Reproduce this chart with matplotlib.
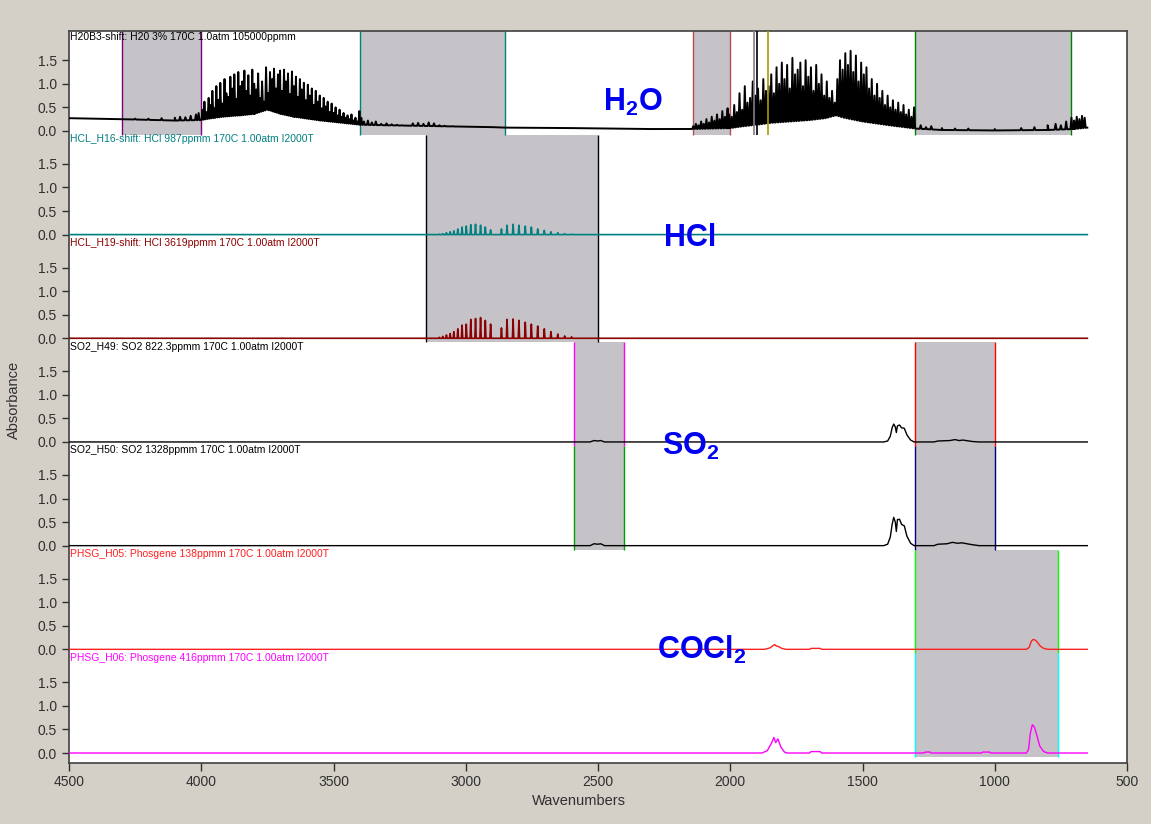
import matplotlib
matplotlib.use("Agg")
import matplotlib.pyplot as plt
import numpy as np

plt.rcParams['font.family'] = ['Liberation Sans', 'DejaVu Sans']
plt.rcParams['mathtext.fontset'] = 'custom'
plt.rcParams['mathtext.rm'] = 'Liberation Sans'
plt.rcParams['mathtext.bf'] = 'Liberation Sans:bold'

# ---- spectra (wavenumber, absorbance) ----
# water: slowly varying lower envelope + line spikes
h2o_base = [(4500, 0.27), (4300, 0.25), (4100, 0.22), (4000, 0.23), (3950, 0.28), (3900, 0.31),
            (3850, 0.33), (3800, 0.36), (3750, 0.45), (3700, 0.36), (3650, 0.30), (3600, 0.26),
            (3550, 0.22), (3450, 0.16), (3400, 0.13), (3300, 0.12), (3100, 0.10), (2900, 0.08),
            (2850, 0.07), (2600, 0.06), (2300, 0.04), (2150, 0.04), (2000, 0.06), (1950, 0.10),
            (1900, 0.13), (1850, 0.17), (1800, 0.19), (1700, 0.23), (1640, 0.27), (1600, 0.33),
            (1570, 0.28), (1500, 0.20), (1400, 0.12), (1300, 0.05), (1200, 0.02), (1000, 0.01),
            (800, 0.02), (700, 0.04), (650, 0.07)]
h2o_peaks = [(4250, 0.26), (4200, 0.26), (4150, 0.27), (4100, 0.28), (4080, 0.30), (4060, 0.29),
             (4040, 0.32), (4020, 0.35), (4010, 0.38),
             (3995, 0.45), (3988, 0.62), (3980, 0.40), (3972, 0.70), (3965, 0.55), (3958, 0.85),
             (3950, 0.48), (3943, 0.95), (3935, 0.66), (3928, 1.02), (3920, 0.58), (3912, 1.10),
             (3905, 0.80), (3897, 0.72), (3890, 1.15), (3882, 0.90), (3875, 1.20), (3867, 0.68),
             (3860, 1.25), (3852, 0.95), (3845, 1.05), (3837, 1.28), (3830, 0.85), (3822, 1.18),
             (3815, 0.75), (3807, 1.30), (3800, 1.00), (3792, 0.88), (3785, 1.22), (3777, 0.70),
             (3770, 1.05), (3762, 0.62), (3755, 1.35), (3747, 0.80), (3740, 1.25), (3732, 1.10),
             (3725, 1.32), (3717, 0.90), (3710, 1.20), (3702, 1.28), (3695, 0.85), (3687, 1.30),
             (3680, 1.05), (3672, 1.22), (3665, 0.78), (3657, 1.26), (3650, 0.95), (3642, 1.15),
             (3635, 0.72), (3627, 1.10), (3620, 0.88), (3612, 1.02), (3605, 0.65), (3597, 0.98),
             (3590, 0.75), (3582, 0.90), (3575, 0.55), (3567, 0.85), (3560, 0.62), (3552, 0.75),
             (3545, 0.48), (3537, 0.70), (3530, 0.52), (3522, 0.62), (3515, 0.40), (3507, 0.58),
             (3500, 0.38), (3492, 0.50), (3485, 0.33), (3477, 0.45), (3470, 0.30), (3462, 0.38),
             (3455, 0.28), (3447, 0.33), (3440, 0.25), (3432, 0.35), (3425, 0.22), (3417, 0.28),
             (3410, 0.20), (3402, 0.42),
             (3395, 0.28), (3385, 0.20), (3370, 0.22), (3355, 0.18), (3340, 0.20), (3320, 0.15),
             (3300, 0.16), (3280, 0.14), (3260, 0.13), (3240, 0.12), (3200, 0.16), (3180, 0.17),
             (3160, 0.15), (3140, 0.18), (3120, 0.16), (3100, 0.12), (3080, 0.11), (3050, 0.10),
             (2140, 0.10), (2130, 0.15), (2120, 0.12), (2110, 0.20), (2100, 0.15), (2090, 0.25),
             (2080, 0.18), (2070, 0.30), (2060, 0.22), (2050, 0.35), (2040, 0.25), (2030, 0.42),
             (2020, 0.30), (2010, 0.48), (2005, 0.35), (1995, 0.30), (1985, 0.55), (1975, 0.40),
             (1965, 0.80), (1955, 0.45), (1945, 0.95), (1935, 0.60), (1925, 0.70), (1915, 1.05),
             (1905, 0.75), (1895, 0.90), (1885, 0.65), (1875, 1.10), (1865, 0.85), (1855, 0.95),
             (1845, 1.20), (1835, 0.80), (1825, 1.35), (1815, 1.00), (1805, 1.45), (1795, 1.10),
             (1785, 1.40), (1775, 0.90), (1765, 1.55), (1755, 1.20), (1745, 1.30), (1735, 1.45),
             (1725, 0.95), (1715, 1.50), (1705, 1.15), (1695, 1.35), (1685, 0.85), (1675, 1.40),
             (1665, 1.00), (1655, 1.20), (1645, 0.75), (1635, 1.05), (1625, 0.70), (1615, 0.85),
             (1605, 0.60), (1595, 1.10), (1585, 1.50), (1575, 1.30), (1565, 1.65), (1555, 1.40),
             (1545, 1.70), (1535, 1.25), (1525, 1.60), (1515, 1.05), (1505, 1.45), (1495, 1.20),
             (1485, 1.35), (1475, 0.90), (1465, 1.10), (1455, 0.75), (1445, 1.00), (1435, 0.70),
             (1425, 0.85), (1415, 0.55), (1405, 0.75), (1395, 0.50), (1385, 0.65), (1375, 0.45),
             (1365, 0.60), (1355, 0.40), (1345, 0.55), (1335, 0.35), (1325, 0.45), (1315, 0.30),
             (1305, 0.50),
             (1280, 0.12), (1260, 0.08), (1240, 0.10), (1200, 0.06), (1150, 0.05), (1100, 0.05),
             (1000, 0.04), (900, 0.06), (850, 0.08), (800, 0.12), (770, 0.15), (750, 0.12),
             (730, 0.20), (710, 0.28), (700, 0.22), (690, 0.30), (680, 0.25), (670, 0.32), (660, 0.28)]

# HCl rotational lines (R and P branch)
hcl_lines = [3100, 3087, 3073, 3059, 3045, 3030, 3014, 2998, 2981, 2963, 2944, 2926, 2906,
             2865, 2844, 2821, 2799, 2775, 2752, 2728, 2703, 2678, 2652, 2626, 2600]
hcl_987 = [0.01, 0.02, 0.04, 0.06, 0.08, 0.12, 0.16, 0.18, 0.21, 0.22, 0.20, 0.16, 0.10,
           0.12, 0.20, 0.22, 0.20, 0.18, 0.16, 0.12, 0.09, 0.06, 0.04, 0.02, 0.01]
hcl_3619 = [0.02, 0.04, 0.07, 0.10, 0.14, 0.20, 0.28, 0.30, 0.40, 0.42, 0.44, 0.38, 0.30,
            0.22, 0.40, 0.41, 0.38, 0.34, 0.30, 0.26, 0.20, 0.14, 0.09, 0.05, 0.03]

# SO2 profiles
so2_822 = [(4500, 0.0), (2530, 0.0), (2515, 0.03), (2500, 0.02), (2490, 0.03), (2475, 0.0),
           (1420, 0.0), (1405, 0.02), (1395, 0.12), (1388, 0.30), (1382, 0.38), (1376, 0.32),
           (1372, 0.20), (1368, 0.34), (1360, 0.36), (1352, 0.30), (1342, 0.29), (1332, 0.15),
           (1318, 0.04), (1305, 0.0), (1230, 0.0), (1215, 0.02), (1170, 0.03), (1150, 0.05),
           (1135, 0.03), (1120, 0.04), (1085, 0.01), (1060, 0.0), (650, 0.0)]
so2_1328 = [(4500, 0.0), (2530, 0.0), (2515, 0.04), (2500, 0.03), (2490, 0.04), (2475, 0.0),
            (1420, 0.0), (1405, 0.03), (1395, 0.18), (1388, 0.45), (1382, 0.60), (1376, 0.50),
            (1372, 0.30), (1368, 0.55), (1360, 0.56), (1352, 0.45), (1342, 0.42), (1332, 0.20),
            (1318, 0.05), (1305, 0.0), (1230, 0.0), (1215, 0.03), (1180, 0.04), (1160, 0.07),
            (1140, 0.05), (1125, 0.06), (1085, 0.02), (1060, 0.0), (650, 0.0)]

# phosgene profiles
cocl2_138 = [(4500, 0.0), (1870, 0.0), (1850, 0.03), (1838, 0.08), (1832, 0.10), (1826, 0.07),
             (1818, 0.06), (1805, 0.02), (1790, 0.0), (1700, 0.0), (1695, 0.02), (1660, 0.02),
             (1655, 0.0), (880, 0.0), (870, 0.04), (862, 0.17), (855, 0.21), (848, 0.20),
             (840, 0.16), (828, 0.07), (815, 0.02), (800, 0.0), (650, 0.0)]
cocl2_416 = [(4500, 0.0), (1880, 0.0), (1860, 0.05), (1845, 0.20), (1835, 0.33), (1828, 0.22),
             (1820, 0.30), (1808, 0.12), (1795, 0.02), (1785, 0.0), (1700, 0.0), (1695, 0.03),
             (1660, 0.03), (1655, 0.0), (1270, 0.0), (1262, 0.02), (1245, 0.02), (1240, 0.0),
             (1050, 0.0), (1045, 0.02), (1020, 0.02), (1015, 0.0), (880, 0.0), (872, 0.08),
             (866, 0.40), (858, 0.60), (850, 0.55), (842, 0.40), (830, 0.15), (815, 0.03),
             (800, 0.0), (650, 0.0)]

titles = ["H20B3-shift: H20 3% 170C 1.0atm 105000ppmm",
          "HCL_H16-shift: HCl 987ppmm 170C 1.00atm I2000T",
          "HCL_H19-shift: HCl 3619ppmm 170C 1.00atm I2000T",
          "SO2_H49: SO2 822.3ppmm 170C 1.00atm I2000T",
          "SO2_H50: SO2 1328ppmm 170C 1.00atm I2000T",
          "PHSG_H05: Phosgene 138ppmm 170C 1.00atm I2000T",
          "PHSG_H06: Phosgene 416ppmm 170C 1.00atm I2000T"]
colors = ['black', '#008080', '#8b0000', 'black', 'black', '#ff2020', '#ff00ff']

# analysis regions (high, low wavenumber) and their edge colours
h2o_regions = [(4300, 4000), (3400, 2850), (2140, 2000), (1300, 712)]
h2o_edges = ['#800080', '#008080', '#b05050', '#008000']
h2o_marks = [(1910, '#808080'), (1898, 'black'), (1857, '#a0a000')]
hcl_region = (3150, 2500)
so2_regions = [(2590, 2400), (1300, 1000)]
so2_edges = [('#ff00ff', '#00a000'), ('#ff0000', '#000080')]
cocl2_region = (1300, 760)
cocl2_edges = ('#00ff00', '#00ffff')


def spikes(base, peaks, foot):
    # baseline with triangular line spikes on top
    bx, by = np.array(sorted(base)).T
    pts = list(base)
    for wn, h in peaks:
        b = np.interp(wn, bx, by)
        pts += [(wn + foot, np.interp(wn + foot, bx, by)), (wn, max(h, b)),
                (wn - foot, np.interp(wn - foot, bx, by))]
    pts.sort(key=lambda p: -p[0])
    return np.array(pts).T


step = 2.2
offs = [step * (6 - k) for k in range(7)]
ytop = offs[0] + 2.12
sink = 0.085
shade = '#c5c3c7'

fig = plt.figure(figsize=(11.51, 8.24), dpi=100, facecolor='#d4d0c8')
ax = fig.add_axes([69 / 1151, 1 - 763 / 824, 1058 / 1151, 732 / 824])
ax.set_xlim(4500, 500)
ax.set_ylim(-0.212, ytop)

# shaded regions
for (hi, lo), c in zip(h2o_regions, h2o_edges):
    ax.fill_between([lo, hi], offs[0] - sink, ytop, color=shade, lw=0, zorder=1)
    ax.vlines([hi, lo], offs[0] - sink, ytop, colors=c, lw=1, zorder=2)
for wn, c in h2o_marks:
    ax.vlines(wn, offs[0] - sink, ytop, colors=c, lw=1.2, zorder=4)

hi, lo = hcl_region
ax.fill_between([lo, hi], offs[2] - sink, offs[0] - sink, color=shade, lw=0, zorder=1)
ax.vlines([hi, lo], offs[2] - sink, offs[0] - sink, colors='black', lw=1, zorder=2)

for (hi, lo), (c1, c2) in zip(so2_regions, so2_edges):
    ax.fill_between([lo, hi], offs[4] - sink, offs[2] - sink, color=shade, lw=0, zorder=1)
    ax.vlines([hi, lo], offs[3] - sink, offs[2] - sink, colors=c1, lw=1, zorder=2)
    ax.vlines([hi, lo], offs[4] - sink, offs[3] - sink, colors=c2, lw=1, zorder=2)

hi, lo = cocl2_region
ax.fill_between([lo, hi], offs[6] - sink, offs[4] - sink, color=shade, lw=0, zorder=1)
ax.vlines([hi, lo], offs[5] - sink, offs[4] - sink, colors=cocl2_edges[0], lw=1, zorder=2)
ax.vlines([hi, lo], offs[6] - sink, offs[5] - sink, colors=cocl2_edges[1], lw=1, zorder=2)

# spectra
x, y = spikes(h2o_base, h2o_peaks, 3.8)
ax.plot(x, y + offs[0], color=colors[0], lw=1.4, zorder=3)

hcl_base = [(4500, 0.0), (650, 0.0)]
for k, vals in ((1, hcl_987), (2, hcl_3619)):
    x, y = spikes(hcl_base, list(zip(hcl_lines, vals)), 2.5)
    ax.plot(x, y + offs[k], color=colors[k], lw=1.2, zorder=3)

for k, prof in ((3, so2_822), (4, so2_1328), (5, cocl2_138), (6, cocl2_416)):
    x, y = np.array(prof).T
    ax.plot(x, y + offs[k], color=colors[k], lw=1.0, zorder=3)

# panel captions
for k, (t, c) in enumerate(zip(titles, colors)):
    ytxt = ytop - 0.03 if k == 0 else offs[k - 1] - 0.07
    ax.text(4496, ytxt, t, color=c, fontsize=7.5, ha='left', va='top', zorder=5)

# compound labels
lab = dict(color='#0000f0', fontsize=22, fontweight='bold', ha='center', va='baseline', zorder=6)
ax.text(2368, offs[0] + 0.42, r'$\mathbf{H_2O}$', **lab)
ax.text(2152, offs[1] - 0.24, 'HCl', **lab)
ax.text(2148, offs[3] - 0.28, r'$\mathbf{SO_2}$', **lab)
ax.text(2107, offs[5] - 0.21, r'$\mathbf{COCl_2}$', **lab)

# axes
yt, yl = [], []
for o in offs:
    for v in (0.0, 0.5, 1.0, 1.5):
        yt.append(o + v)
        yl.append(f"{v:.1f}")
ax.set_yticks(yt)
ax.set_yticklabels(yl)
ax.set_xticks(np.arange(4500, 499, -500))
ax.tick_params(axis='both', direction='out', labelsize=10, colors='#303030', length=5, width=1)
ax.tick_params(axis='x', length=6, pad=3)
for s in ax.spines.values():
    s.set_color('#404040')
    s.set_linewidth(1.2)

fig.text(579 / 1151, 1 - 801 / 824, 'Wavenumbers', ha='center', va='center', fontsize=10.5, color='#303030')
fig.text(14 / 1151, 1 - 400 / 824, 'Absorbance', ha='center', va='center', rotation=90,
         fontsize=10.5, color='#303030')

fig.savefig('out.png', dpi=100, facecolor=fig.get_facecolor())
